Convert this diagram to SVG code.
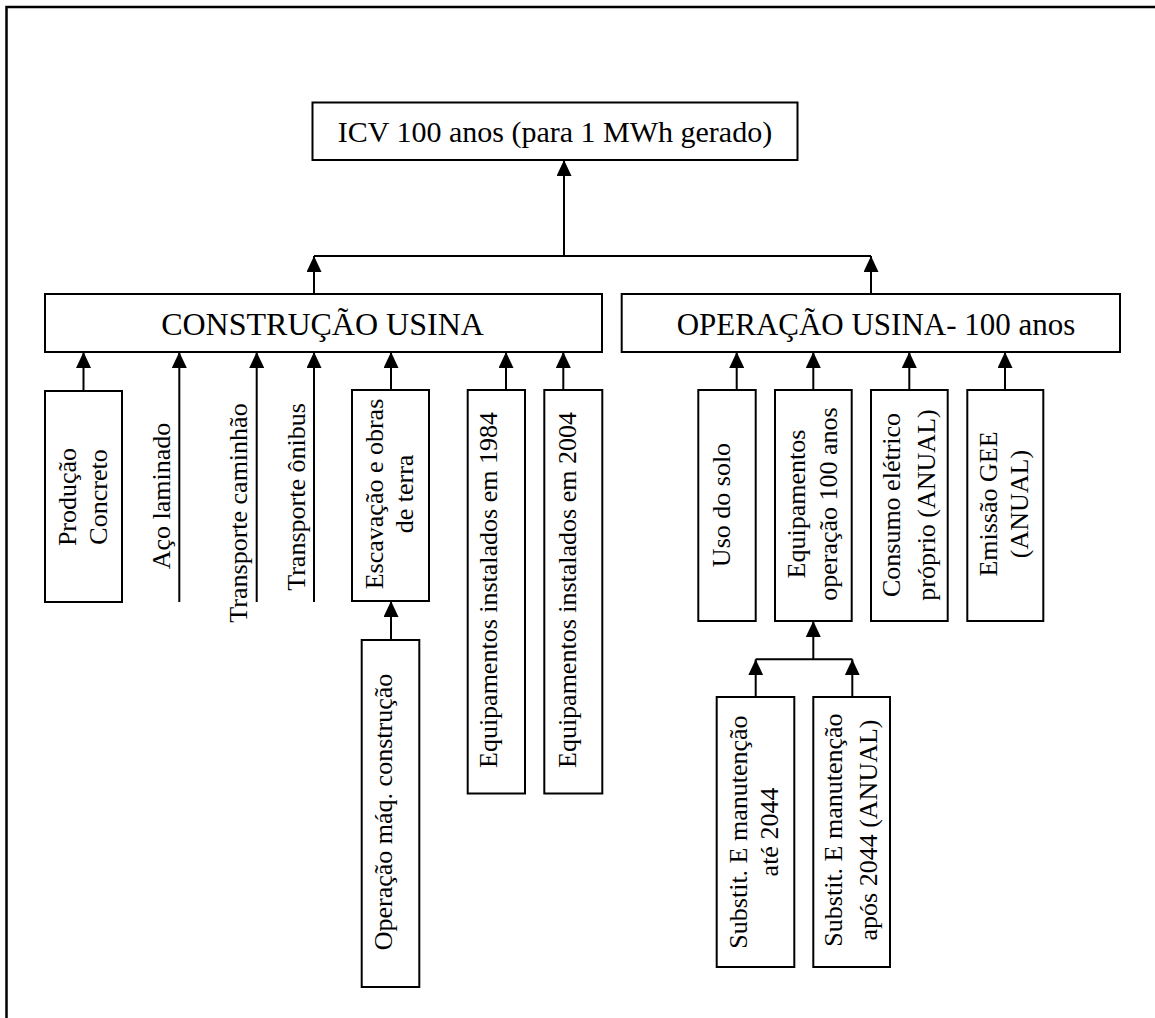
<svg xmlns="http://www.w3.org/2000/svg" width="1155" height="1018" viewBox="0 0 1155 1018">
<defs>
<style>
.box{fill:#fff;stroke:#000;stroke-width:2}
.t{font-family:"Liberation Serif","Times New Roman",serif;fill:#000;text-anchor:middle}
.big{font-size:31px}
.top{font-size:30px}
.v{font-size:26px}
.c{fill:none;stroke:#000;stroke-width:2}
.a{marker-end:url(#ah)}
</style>
<marker id="ah" viewBox="0 0 16 15" refX="16" refY="7.5" markerWidth="16" markerHeight="15" markerUnits="userSpaceOnUse" orient="auto">
<path d="M0,0 L16,7.5 L0,15 Z" fill="#000"/>
</marker>
</defs>
<rect width="1155" height="1018" fill="#fff"/>
<path d="M6.5,1018 V7 H1155" fill="none" stroke="#000" stroke-width="2.5"/>

<g id="connectors">
<path class="c a" d="M564,256 V160"/>
<path class="c" d="M314,256 H871"/>
<path class="c a" d="M314,294 V256"/>
<path class="c a" d="M871,294 V256"/>
<path class="c a" d="M83.5,391 V352"/>
<path class="c a" d="M179.3,602 V352"/>
<path class="c a" d="M256.7,602 V352"/>
<path class="c a" d="M314,602 V352"/>
<path class="c a" d="M391,390 V352"/>
<path class="c a" d="M506,390 V352"/>
<path class="c a" d="M563.3,390 V352"/>
<path class="c a" d="M391,640 V601"/>
<path class="c a" d="M736.7,390 V352"/>
<path class="c a" d="M813.3,390 V352"/>
<path class="c a" d="M909.3,390 V352"/>
<path class="c a" d="M1005,390 V352"/>
<path class="c a" d="M813.3,659.3 V621"/>
<path class="c" d="M755.7,659.3 H852.3"/>
<path class="c a" d="M755.7,697 V659.3"/>
<path class="c a" d="M852.3,697 V659.3"/>
</g>

<g id="icv">
<rect class="box" x="312.5" y="102.5" width="485" height="57.5"/>
<text class="t top" x="555" y="141.5">ICV 100 anos (para 1 MWh gerado)</text>
</g>
<g id="construcao">
<rect class="box" x="45" y="294" width="557" height="58"/>
<text class="t big" x="322.5" y="335" style="font-size:32px">CONSTRUÇÃO USINA</text>
</g>
<g id="operacao">
<rect class="box" x="621.7" y="294" width="498.3" height="58"/>
<text class="t big" x="876" y="335">OPERAÇÃO USINA- 100 anos</text>
</g>

<g id="producao">
<rect class="box" x="45" y="391" width="77" height="211"/>
<text class="t v" transform="translate(76,497) rotate(-90)"><tspan x="0" y="0">Produção</tspan><tspan x="0" y="31">Concreto</tspan></text>
</g>
<g id="aco">
<text class="t v" transform="translate(169.5,496) rotate(-90)">Aço laminado</text>
</g>
<g id="transp-caminhao">
<text class="t v" transform="translate(246.7,513) rotate(-90)">Transporte caminhão</text>
</g>
<g id="transp-onibus">
<text class="t v" transform="translate(305,497) rotate(-90)">Transporte ônibus</text>
</g>
<g id="escavacao">
<rect class="box" x="352" y="390" width="77" height="211"/>
<text class="t v" transform="translate(382.7,494) rotate(-90)"><tspan x="0" y="0">Escavação e obras</tspan><tspan x="0" y="30.6">de terra</tspan></text>
</g>
<g id="operacao-maq">
<rect class="box" x="361.7" y="640" width="57.6" height="347"/>
<text class="t v" transform="translate(391.7,812) rotate(-90)">Operação máq. construção</text>
</g>
<g id="equip1984">
<rect class="box" x="467.7" y="390" width="57.3" height="403.5"/>
<text class="t v" transform="translate(497,590) rotate(-90)">Equipamentos instalados em 1984</text>
</g>
<g id="equip2004">
<rect class="box" x="544.3" y="390" width="58" height="403.5"/>
<text class="t v" transform="translate(576,590) rotate(-90)">Equipamentos instalados em 2004</text>
</g>

<g id="uso-solo">
<rect class="box" x="698.3" y="390" width="57.4" height="231"/>
<text class="t v" transform="translate(730,505) rotate(-90)">Uso do solo</text>
</g>
<g id="equip-op">
<rect class="box" x="775" y="390" width="76.7" height="231"/>
<text class="t v" transform="translate(805,504) rotate(-90)"><tspan x="0" y="0">Equipamentos</tspan><tspan x="0" y="31.7">operação 100 anos</tspan></text>
</g>
<g id="consumo">
<rect class="box" x="871" y="390" width="76.7" height="231"/>
<text class="t v" transform="translate(900,505) rotate(-90)"><tspan x="0" y="0">Consumo elétrico</tspan><tspan x="0" y="35">próprio (ANUAL)</tspan></text>
</g>
<g id="emissao">
<rect class="box" x="967.3" y="390" width="76" height="231"/>
<text class="t v" transform="translate(996.7,504) rotate(-90)"><tspan x="0" y="0">Emissão GEE</tspan><tspan x="0" y="31.6">(ANUAL)</tspan></text>
</g>
<g id="subst1">
<rect class="box" x="716.7" y="697" width="77.6" height="270"/>
<text class="t v" transform="translate(746.7,832) rotate(-90)"><tspan x="0" y="0">Substit. E manutenção</tspan><tspan x="0" y="31.6">até 2044</tspan></text>
</g>
<g id="subst2">
<rect class="box" x="813.3" y="697" width="76.7" height="270"/>
<text class="t v" transform="translate(841.7,830) rotate(-90)"><tspan x="0" y="0">Substit. E manutenção</tspan><tspan x="0" y="35">após 2044 (ANUAL)</tspan></text>
</g>
</svg>
